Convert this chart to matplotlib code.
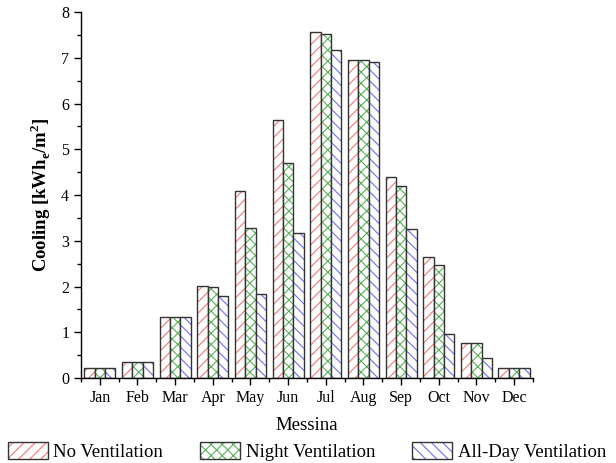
import numpy as np
import matplotlib
matplotlib.use('Agg')
import matplotlib.pyplot as plt
from matplotlib.ticker import MultipleLocator
from matplotlib.legend_handler import HandlerBase

plt.rcParams['font.family'] = ['Liberation Serif', 'DejaVu Serif']
plt.rcParams['mathtext.fontset'] = 'custom'
plt.rcParams['mathtext.rm'] = 'Liberation Serif'
plt.rcParams['mathtext.bf'] = 'Liberation Serif:bold'
plt.rcParams['hatch.linewidth'] = 0.8

months = ['Jan', 'Feb', 'Mar', 'Apr', 'May', 'Jun', 'Jul', 'Aug', 'Sep', 'Oct', 'Nov', 'Dec']
no_vent = [0.21, 0.35, 1.33, 2.02, 4.08, 5.64, 7.56, 6.95, 4.40, 2.64, 0.76, 0.22]
night_vent = [0.21, 0.35, 1.33, 1.98, 3.27, 4.71, 7.51, 6.95, 4.20, 2.47, 0.76, 0.22]
allday_vent = [0.21, 0.35, 1.33, 1.79, 1.83, 3.16, 7.18, 6.91, 3.26, 0.96, 0.44, 0.21]

series = [
    ('No Ventilation', no_vent, '#f07878', '///'),
    ('Night Ventilation', night_vent, '#58b058', 'xxx'),
    ('All-Day Ventilation', allday_vent, '#7070ee', '\\\\\\'),
]

fig = plt.figure(figsize=(6.16, 4.63), dpi=100)
ax = fig.add_axes([0.1315, 0.1836, 0.7335, 0.7904])

x = np.arange(len(months))
w = 0.275
handles = []
for i, (name, vals, col, hatch) in enumerate(series):
    pos = x + (i - 1) * w
    # hatch colour comes from edgecolor, so draw the hatch first, outline after
    ax.bar(pos, vals, w, color='white', edgecolor=col, hatch=hatch, linewidth=0)
    ax.bar(pos, vals, w, fill=False, edgecolor='#333333', linewidth=1.0)
    h = plt.Rectangle((0, 0), 1, 1, facecolor='white', edgecolor=col, hatch=hatch, linewidth=0)
    handles.append(h)

ax.set_xlim(-0.5, 11.5)
ax.set_ylim(0, 8)
ax.set_xticks(x)
ax.set_xticklabels(months, fontsize=11.5)
ax.xaxis.set_minor_locator(MultipleLocator(1, offset=0.5))
ax.yaxis.set_major_locator(MultipleLocator(1))
ax.yaxis.set_minor_locator(MultipleLocator(0.5))
ax.tick_params(axis='both', which='major', direction='out', length=5, width=1, labelsize=11.5)
ax.tick_params(axis='both', which='minor', direction='out', length=3, width=1)
for s in ['top', 'right']:
    ax.spines[s].set_visible(False)
for s in ['left', 'bottom']:
    ax.spines[s].set_linewidth(1.0)

ax.set_ylabel(r'Cooling [kWh$_\mathbf{e}$/m$^\mathbf{2}$]', fontsize=13.5, fontweight='bold', labelpad=6)
ax.set_xlabel('Messina', fontsize=13.5, labelpad=8)


# legend handles outlined in dark grey on top of the hatch
class HatchHandler(HandlerBase):
    def create_artists(self, legend, orig, xd, yd, width, height, fontsize, trans):
        r1 = plt.Rectangle((-xd, -yd), width, height, facecolor='white',
                           edgecolor=orig.get_edgecolor(), hatch=orig.get_hatch(),
                           linewidth=0, transform=trans)
        r2 = plt.Rectangle((-xd, -yd), width, height, fill=False,
                           edgecolor='#333333', linewidth=1.0, transform=trans)
        return [r1, r2]


fig.legend(handles, [s[0] for s in series], loc='lower left', bbox_to_anchor=(-0.003, -0.016),
           ncol=3, frameon=False, fontsize=13.5, handlelength=2.15, handleheight=1.05,
           handletextpad=0.3, columnspacing=1.95, borderaxespad=0.2, borderpad=0.3,
           handler_map={plt.Rectangle: HatchHandler()})

fig.savefig('out.png', dpi=100)
